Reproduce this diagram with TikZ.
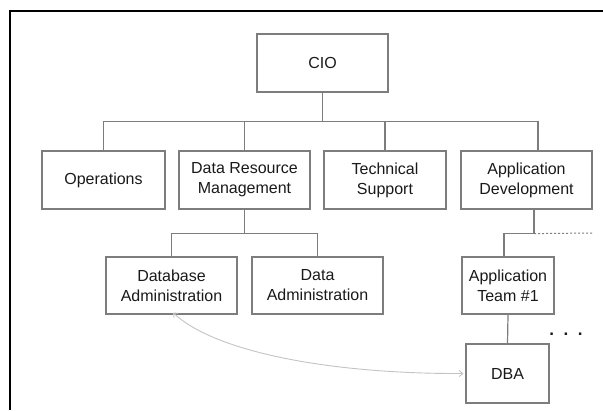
\documentclass[tikz,border=0pt]{standalone}
\usepackage{fontspec}
\setmainfont{Liberation Sans}
\usetikzlibrary{arrows.meta,calc}
\definecolor{boxline}{RGB}{125,125,125}
\definecolor{linkline}{RGB}{195,195,195}
\definecolor{labeltext}{RGB}{25,25,25}
\begin{document}
\begin{tikzpicture}[x=1bp,y=-1bp,
  orgbox/.style={draw=boxline,line width=1.2bp,rectangle,inner sep=0pt,
    minimum height=58bp,align=center,text=labeltext,
    font=\fontsize{16bp}{20bp}\selectfont},
  tie/.style={draw=boxline,line width=1.2bp},
  link/.style={draw=linkline,line width=0.9bp,
    {Straight Barb[length=3.5bp,width=6bp]}-{Straight Barb[length=3.5bp,width=6bp]}}]
\useasboundingbox (0,0) rectangle (603,410);
% outer frame (top and left edges only)
\draw[line width=2.2bp,black] (603,11) -- (10,11) -- (10,410);

% boxes
\node[orgbox,minimum width=131bp] (cio) at (322.5,63) {CIO};
\node[orgbox,minimum width=123bp] (ops) at (103.5,180) {Operations};
\node[orgbox,minimum width=131bp] (drm) at (244.5,180) {Data Resource\\Management};
\node[orgbox,minimum width=122bp] (ts) at (385,180) {Technical\\Support};
\node[orgbox,minimum width=131bp] (ad) at (526.5,180) {Application\\Development};
\node[orgbox,minimum width=131bp,minimum height=57bp] (dbadm) at (171.5,285.5) {Database\\Administration};
\node[orgbox,minimum width=131bp,minimum height=57bp] (dadm) at (317.5,285.5) {Data\\Administration};
\node[orgbox,minimum width=92bp,minimum height=57bp] (team) at (508,285.5) {Application\\Team \#1};
\node[orgbox,minimum width=83bp,minimum height=59bp] (dba) at (507.5,373.5) {DBA};

% first level
\coordinate (bus1) at ($(cio.south)+(0,29)$);
\draw[tie] (cio.south) -- (bus1);
\draw[tie] (ops.north) |- (bus1) -| ([xshift=11.5bp]ad.north);
\draw[tie] (drm.north) -- (drm.north |- bus1);
\draw[tie] (ts.north) -- (ts.north |- bus1);

% second level under Data Resource Management
\coordinate (bus2) at ($(drm.south)+(0,24)$);
\draw[tie] (drm.south) -- (bus2);
\draw[tie] (dbadm.north) |- (bus2) -| (dadm.north);

% second level under Application Development
\coordinate (bus3) at ($([xshift=7.5bp]ad.south)+(0,24)$);
\coordinate (more) at (593,233);
\draw[tie] ([xshift=7.5bp]ad.south) -- (bus3) -| ([xshift=-4bp]team.north);
\draw[tie,dash pattern=on 2bp off 2bp,line width=1bp] (bus3) -- (more);
\draw[tie] (team.south) -- (dba.north);

% further teams
\node[anchor=base,text=labeltext,font=\bfseries\fontsize{17bp}{20bp}\selectfont,inner sep=0pt]
  (dots) at (566,335) {.\ \ .\ \ .};

% DBA liaison link
\draw[link] ([xshift=1.5bp,yshift=2bp]dbadm.south) .. controls (215,352) and (330,374) .. ([xshift=-2bp]dba.west);
\end{tikzpicture}
\end{document}
